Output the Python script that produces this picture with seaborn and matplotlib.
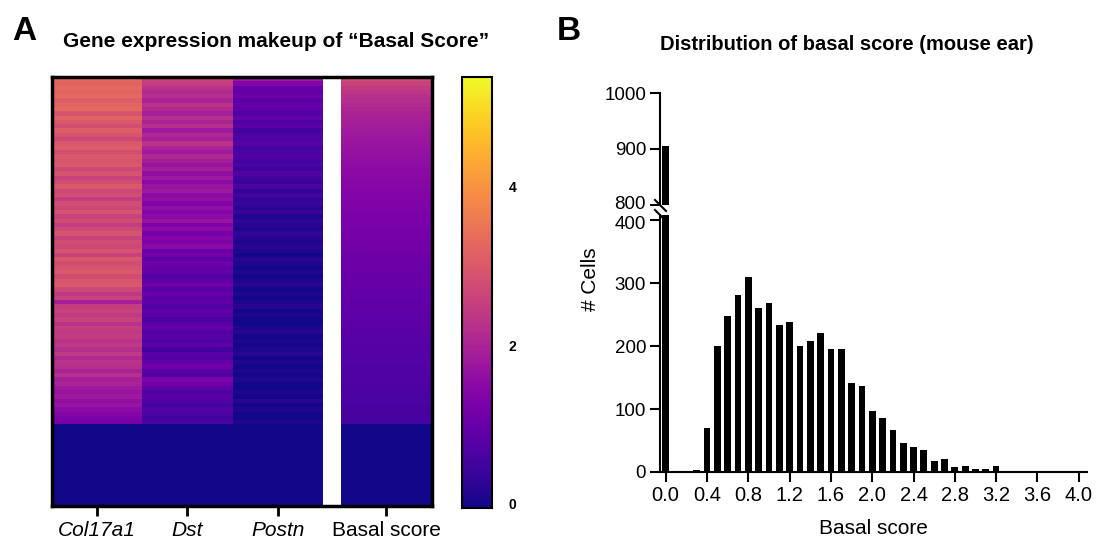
import numpy as np
import pandas as pd
import matplotlib
matplotlib.use("Agg")
import matplotlib.pyplot as plt
import matplotlib.transforms as mtransforms
import seaborn as sns

# ---------------- data ----------------
gene_names = ["Col17a1", "Dst", "Postn"]
score_name = "Basal score"

# per-row expression (rows sorted by basal score, top to bottom), non-zero cells
col17a1 = [3.3, 3.2, 3.3, 3.2, 3.3, 3.1, 3.2, 3.3, 2.9, 3.2,
           3.0, 2.8, 3.1, 2.9, 2.7, 3.0, 3.1, 2.8, 3.0, 2.9,
           3.0, 2.7, 2.9, 2.6, 2.8, 3.0, 2.7, 2.8, 2.5, 2.8,
           2.7, 2.9, 2.6, 2.8, 2.5, 2.7, 2.9, 2.6, 2.8, 2.7,
           2.9, 2.6, 3.0, 2.8, 2.9, 3.0, 2.8, 2.9, 3.0, 2.7,
           2.4, 2.6, 1.9, 2.5, 2.6, 2.4, 2.6, 2.3, 2.5, 2.4,
           2.5, 2.3, 2.4, 2.2, 2.4, 2.1, 2.3, 2.2, 2.0, 2.2,
           1.9, 2.0, 1.8, 1.7, 1.8, 1.6, 1.7, 1.5, 1.4, 1.3, 1.2]
dst = [2.6, 2.5, 2.3,
       2.1, 2.2, 2.0, 2.3, 2.1, 1.9, 2.2,
       2.0, 2.2, 1.8, 2.1, 1.9, 2.3, 2.0, 1.8, 2.1, 1.9,
       1.7, 1.9, 1.6, 1.8, 1.5, 1.7, 1.8, 1.5, 1.6, 1.4,
       1.6, 1.4, 1.5, 1.7, 1.3, 1.5, 1.2, 1.4, 1.3, 1.5,
       1.0, 1.2, 0.8, 1.1, 0.9, 1.0, 0.7, 0.9, 1.1, 0.8,
       1.0, 0.8, 0.9, 0.7, 0.9, 0.8, 0.6, 0.8, 1.0, 0.7,
       0.8, 0.6, 0.9, 0.5, 0.8, 0.7, 0.9, 1.1, 0.8, 0.7,
       1.3, 1.1, 0.9, 0.6, 0.8, 0.7, 0.5, 0.7, 0.6, 0.5, 0.6]
postn = [1.8, 1.4,
         1.0, 0.9, 1.1, 0.8, 1.0, 0.9, 0.7, 1.0,
         0.6, 0.8, 0.5, 0.7, 0.6, 0.8, 0.5, 0.6, 0.7, 0.5,
         0.6, 0.4, 0.7, 0.5, 0.4, 0.6, 0.3, 0.5, 0.3, 0.4,
         0.2, 0.4, 0.1, 0.3, 0.2, 0.1, 0.3, 0.2, 0.1, 0.2,
         0.1, 0.0, 0.2, 0.1, 0.0, 0.1, 0.0, 0.1, 0.2, 0.0,
         0.1, 0.0, 0.1, 0.2, 0.0, 0.1, 0.0, 0.0, 0.1, 0.2,
         0.0, 0.1, 0.0, 0.1, 0.2, 0.0, 0.1, 0.0, 0.1, 0.0,
         0.1, 0.0, 0.0, 0.1, 0.0, 0.2, 0.0, 0.1, 0.0, 0.0, 0.1]
basal_score = [2.8, 2.6, 2.45, 2.35, 2.25, 2.18, 2.12, 2.06, 2.0, 1.95,
               1.9, 1.86, 1.82, 1.78, 1.74, 1.71, 1.68, 1.65, 1.62, 1.59,
               1.56, 1.53, 1.5, 1.48, 1.45, 1.43, 1.4, 1.38, 1.36, 1.34,
               1.32, 1.3, 1.28, 1.26, 1.24, 1.22, 1.2, 1.18, 1.16, 1.14,
               1.12, 1.1, 1.08, 1.06, 1.05, 1.03, 1.01, 0.99, 0.98, 0.96,
               0.94, 0.93, 0.91, 0.9, 0.88, 0.87, 0.85, 0.84, 0.82, 0.81,
               0.79, 0.78, 0.77, 0.75, 0.74, 0.73, 0.71, 0.7, 0.69, 0.67,
               0.66, 0.65, 0.63, 0.62, 0.61, 0.6, 0.58, 0.57, 0.56, 0.55, 0.54]
n_zero_rows = 19  # cells with zero expression in all genes (bottom block)

cbar_ticks = [0, 2, 4]

# histogram of basal score (mouse ear)
bin_centers = [0.0, 0.1, 0.2, 0.3, 0.4, 0.5, 0.6, 0.7, 0.8, 0.9,
               1.0, 1.1, 1.2, 1.3, 1.4, 1.5, 1.6, 1.7, 1.8, 1.9,
               2.0, 2.1, 2.2, 2.3, 2.4, 2.5, 2.6, 2.7, 2.8, 2.9,
               3.0, 3.1, 3.2, 3.3, 3.4, 3.5, 3.6, 3.7, 3.8, 3.9, 4.0]
cell_counts = [905, 0, 0, 3, 70, 200, 248, 281, 309, 261,
               268, 234, 238, 200, 208, 221, 195, 195, 141, 137,
               97, 85, 67, 46, 39, 35, 17, 21, 8, 9,
               4, 4, 9, 0, 0, 0, 2, 1, 0, 0, 0]
x_ticks = [0.0, 0.4, 0.8, 1.2, 1.6, 2.0, 2.4, 2.8, 3.2, 3.6, 4.0]
x_ticklabels = ["0.0", "0.4", "0.8", "1.2", "1.6", "2.0", "2.4", "2.8", "3.2", "3.6", "4.0"]
y_ticks_low = [0, 100, 200, 300, 400]
y_ticks_high = [800, 900, 1000]

# ---------------- style ----------------
sns.set_style("white")
plt.rcParams['font.family'] = ['Liberation Sans', 'DejaVu Sans']
for k in ("text.color", "axes.labelcolor", "xtick.color", "ytick.color", "axes.edgecolor"):
    plt.rcParams[k] = "black"

W, H = 1103, 545
fig = plt.figure(figsize=(W / 100, H / 100), dpi=100)

def box(x0, y0, x1, y1):
    return [x0 / W, 1 - y1 / H, (x1 - x0) / W, (y1 - y0) / H]

# ---------------- panel A: heatmap ----------------
ax_hm = fig.add_axes(box(51.7, 77, 431.7, 506))
cax = fig.add_axes(box(461.7, 77, 491.7, 508))

n_sub = 5
n_rows = len(basal_score) + n_zero_rows

def block(vals):
    v = np.array(list(vals) + [0.0] * n_zero_rows)
    return np.repeat(v[:, None], n_sub, axis=1)

mat = np.hstack([block(col17a1), block(dst), block(postn),
                 np.full((n_rows, 1), np.nan), block(basal_score)])
sns.heatmap(pd.DataFrame(mat), cmap="plasma", vmin=-0.06, vmax=5.39,
            ax=ax_hm, cbar_ax=cax, xticklabels=False, yticklabels=False)

ax_hm.set_xticks([2.5, 7.5, 12.5, 18.5])
labels = ax_hm.set_xticklabels(gene_names + [score_name], fontsize=15)
for lab in labels[:3]:
    lab.set_fontstyle("italic")
ax_hm.tick_params(axis='x', bottom=True, length=7, width=2, pad=4, color='black')
ax_hm.tick_params(axis='y', left=False, length=0)
for s in ax_hm.spines.values():
    s.set_visible(True)
    s.set_linewidth(2.5)
    s.set_color('black')

cb = ax_hm.collections[0].colorbar
cb.set_ticks(cbar_ticks)
cb.ax.tick_params(direction='in', length=4, width=1.5, left=True, right=True,
                  labelsize=10, pad=12)
for t in cb.ax.get_yticklabels():
    t.set_fontweight('bold')
cb.outline.set_linewidth(1.5)
cb.outline.set_edgecolor('black')

fig.text(12 / W, 1 - 40 / H, "A", fontsize=24, fontweight='bold', va='baseline')
fig.text(63 / W, 1 - 47 / H, "Gene expression makeup of \u201cBasal Score\u201d",
         fontsize=15, fontweight='bold', va='baseline')

# ---------------- panel B: broken-axis histogram ----------------
df = pd.DataFrame({"score": bin_centers, "count": cell_counts})
ax_low = fig.add_axes(box(660, 215, 1087, 472))
ax_high = fig.add_axes(box(660, 93, 1087, 205))

for ax in (ax_low, ax_high):
    sns.barplot(data=df, x="score", y="count", native_scale=True, color="black",
                saturation=1, width=0.65, linewidth=0, ax=ax)
    ax.set_xlim(-0.055, 4.08)
    ax.set_ylabel("")
    ax.set_xlabel("")
    for side in ("top", "right"):
        ax.spines[side].set_visible(False)
    for side in ("left", "bottom"):
        ax.spines[side].set_linewidth(1.5)
        ax.spines[side].set_color("black")
    ax.tick_params(axis='both', length=7, width=1.5, labelsize=13.5, color='black',
                   left=True, bottom=True, pad=3)

ax_low.set_ylim(0, 408)
ax_low.set_yticks(y_ticks_low)
ax_low.set_xticks(x_ticks)
ax_low.set_xticklabels(x_ticklabels, fontsize=14.5)
ax_low.set_xlabel("Basal score", fontsize=15, labelpad=10)

ax_high.set_ylim(800, 1000)
ax_high.set_yticks(y_ticks_high)
ax_high.spines["bottom"].set_visible(False)
ax_high.tick_params(axis='x', bottom=False, labelbottom=False)

# the two labels at the axis break sit tightly stacked, as in the reference
up = mtransforms.ScaledTranslation(0, 2.0 / 72, fig.dpi_scale_trans)
down = mtransforms.ScaledTranslation(0, -2.0 / 72, fig.dpi_scale_trans)
for lab in ax_high.get_yticklabels():
    if lab.get_text() == "800":
        lab.set_transform(lab.get_transform() + up)
for lab in ax_low.get_yticklabels():
    if lab.get_text() == "400":
        lab.set_transform(lab.get_transform() + down)

brk = dict(marker=[(-1, 1), (1, -1)], markersize=9, linestyle="none",
           color="black", mec="black", mew=1.5, clip_on=False)
ax_high.plot([0], [0], transform=ax_high.transAxes, **brk)
ax_low.plot([0], [1], transform=ax_low.transAxes, **brk)

fig.text(590 / W, 1 - 279 / H, "# Cells", rotation=90, ha='center', va='center', fontsize=15)
fig.text(557 / W, 1 - 40 / H, "B", fontsize=24, fontweight='bold', va='baseline')
fig.text(660 / W, 1 - 50 / H, "Distribution of basal score (mouse ear)",
         fontsize=14.5, fontweight='bold', va='baseline')

fig.savefig("out.png", dpi=100)
